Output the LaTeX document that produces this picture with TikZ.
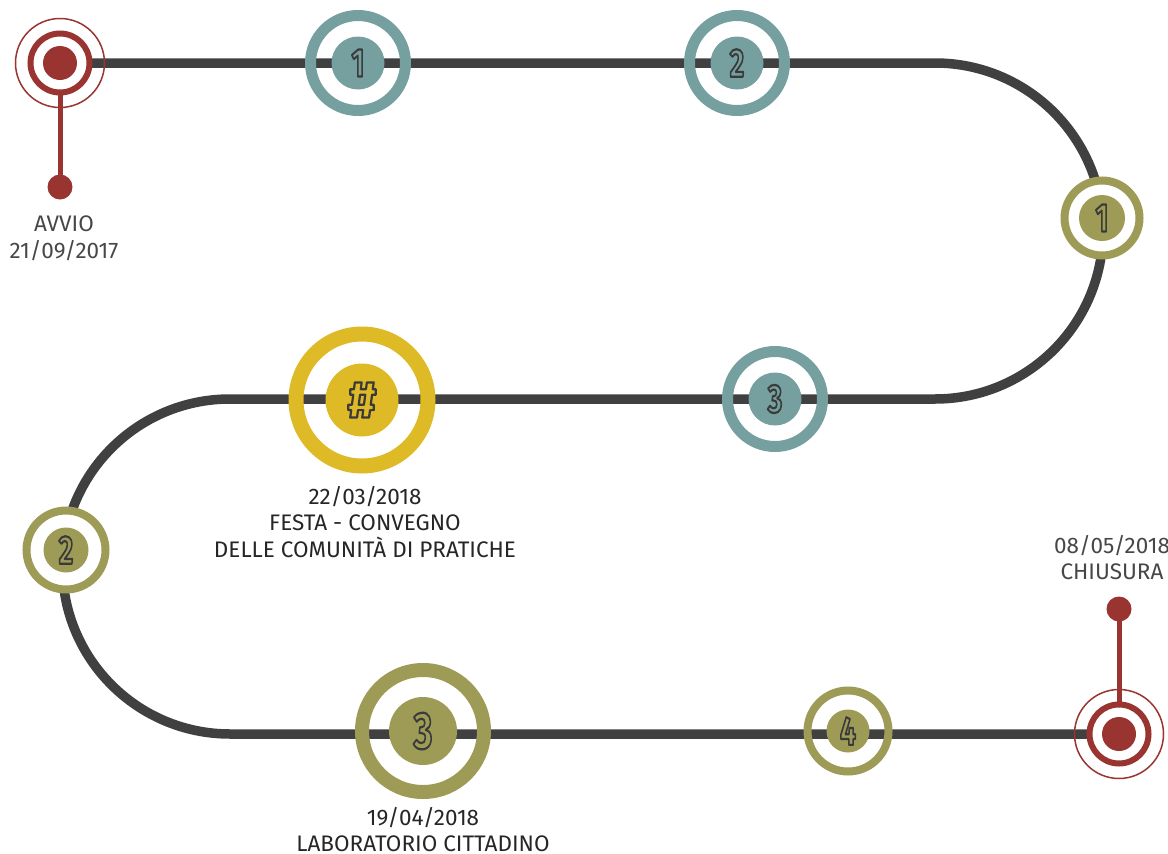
\documentclass[tikz,border=0pt]{standalone}
\usepackage{fontspec}
\setmainfont{Fira Sans}
\usepackage{graphicx}
\definecolor{ctrack}{HTML}{404040}
\definecolor{cred}{HTML}{993431}
\definecolor{cteal}{HTML}{75A09F}
\definecolor{colive}{HTML}{9D9B55}
\definecolor{cyellow}{HTML}{DFBA27}
\definecolor{cnum}{HTML}{3A3A3A}
\definecolor{ctext}{HTML}{262626}
\definecolor{ctextg}{HTML}{474747}
% outlined numeral: fill in the disc colour, dark stroke round the glyph
\newcommand\outl[2]{{\color{#1}\special{pdf:literal direct q 2 Tr 2.2 w 1 j 0.227 0.227 0.227 RG}#2\special{pdf:literal direct Q}}}
\tikzset{
  trackline/.style={draw=ctrack, line width=9.5pt},
  lbl/.style={anchor=base, inner sep=0pt, text=ctext, font=\fontsize{22.5}{26}\selectfont},
  lblg/.style={lbl, text=ctextg},
  numsmall/.style={inner sep=0pt, font=\fontsize{40}{44}\selectfont\bfseries},
  numbig/.style={inner sep=0pt, font=\fontsize{52}{56}\selectfont\bfseries},
}
\begin{document}
\begin{tikzpicture}[x=1pt, y=-1pt]
\useasboundingbox (0,0) rectangle (1168,854);
% coordinates
\coordinate (s) at (60,63);
\coordinate (e) at (1119,734);
\coordinate (t1) at (358,63);
\coordinate (t2) at (737,63);
\coordinate (o1) at (1102,218);
\coordinate (t3) at (775,399);
\coordinate (y1) at (362,400);
\coordinate (o2) at (66,550);
\coordinate (o3) at (423,731);
\coordinate (o4) at (848,731);
\coordinate (sd) at (60,187);
\coordinate (ed) at (1119,609);
% track
\draw[trackline] (s) -- (935,63) arc[start angle=90, end angle=-90, radius=168pt]
  -- (230,399) arc[start angle=90, end angle=270, radius=167.5pt] -- (e);
% start marker
\draw[cred, line width=5pt] (s) -- (sd);
\fill[cred] (sd) circle[radius=12.5pt];
\draw[cred, line width=1.5pt] (s) circle[radius=44.5pt];
\draw[cred, fill=white, line width=6pt] (s) circle[radius=29.5pt];
\fill[cred] (s) circle[radius=17pt];
% end marker
\draw[cred, line width=5pt] (e) -- (ed);
\fill[cred] (ed) circle[radius=12.5pt];
\draw[cred, line width=1.5pt] (e) circle[radius=44.5pt];
\draw[cred, fill=white, line width=6pt] (e) circle[radius=29.5pt];
\fill[cred] (e) circle[radius=17pt];
% teal markers
\foreach \c in {t1,t2,t3}{
  \draw[cteal, line width=11pt] (\c) circle[radius=47.5pt];
  \fill[cteal] (\c) circle[radius=26.5pt];
}
% olive small markers
\draw[colive, fill=white, line width=8pt] (o1) circle[radius=37.5pt];
\fill[colive] (o1) circle[radius=23pt];
\draw[colive, fill=white, line width=8pt] (o2) circle[radius=39.5pt];
\fill[colive] (o2) circle[radius=22.5pt];
\draw[colive, line width=8pt] (o4) circle[radius=40.5pt];
\fill[colive] (o4) circle[radius=21.5pt];
% big markers
\draw[cyellow, line width=15pt] (y1) circle[radius=66pt];
\fill[cyellow] (y1) circle[radius=36.5pt];
\draw[colive, line width=14pt] (o3) circle[radius=61pt];
\fill[colive] (o3) circle[radius=34pt];
% numbers
\node[numsmall] (nt1) at (t1) {\scalebox{0.7}[1]{\outl{cteal}{1}}};
\node[numsmall] (nt2) at (t2) {\scalebox{0.7}[1]{\outl{cteal}{2}}};
\node[numsmall] (nt3) at (t3) {\scalebox{0.7}[1]{\outl{cteal}{3}}};
\node[numsmall] (no1) at (o1) {\scalebox{0.7}[1]{\outl{colive}{1}}};
\node[numsmall] (no2) at (o2) {\scalebox{0.7}[1]{\outl{colive}{2}}};
\node[numsmall] (no4) at (o4) {\scalebox{0.7}[1]{\outl{colive}{4}}};
\node[numbig] (no3) at (o3) {\scalebox{0.7}[1]{\outl{colive}{3}}};
\node[numbig] (ny1) at (y1) {\outl{cyellow}{\#}};
% labels
\node[lblg] (la1) at (64,231) {AVVIO};
\node[lblg] (la2) at (64,258) {21/09/2017};
\node[lbl] (lf1) at (365,504) {22/03/2018};
\node[lbl] (lf2) at (365,530) {FESTA - CONVEGNO};
\node[lbl] (lf3) at (365,557) {DELLE COMUNITÀ DI PRATICHE};
\node[lbl] (ll1) at (423,825) {19/04/2018};
\node[lbl] (ll2) at (423,851) {LABORATORIO CITTADINO};
\node[lblg] (lc1) at (1112,553) {08/05/2018};
\node[lblg] (lc2) at (1112,579) {CHIUSURA};
\end{tikzpicture}
\end{document}
